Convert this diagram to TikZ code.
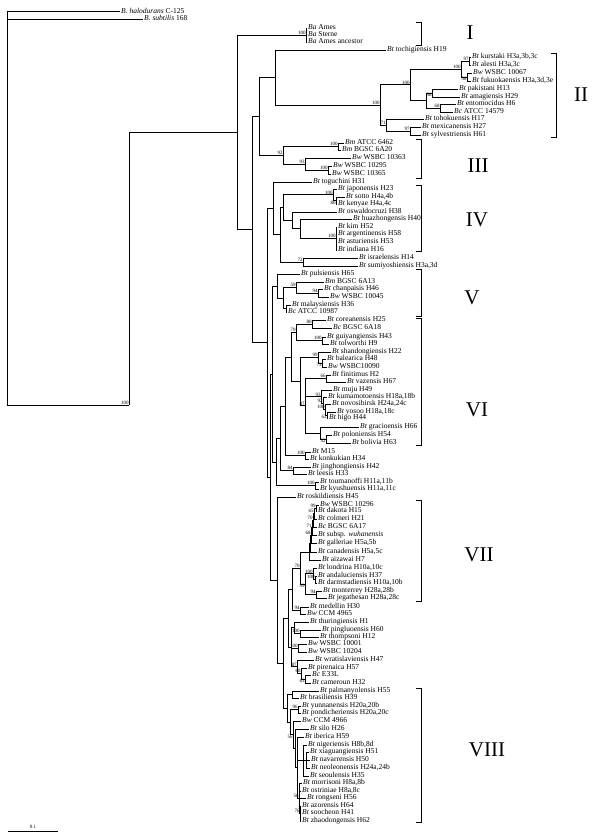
\documentclass[tikz,border=0pt]{standalone}
\usepackage{fontspec}
\setmainfont{Liberation Serif}
\newcommand\lfont{\fontsize{7.5}{8}\selectfont}
\newcommand\sfont{\fontsize{5}{5}\selectfont}
\newcommand\rfont{\fontsize{21}{21}\selectfont}
\begin{document}
\begin{tikzpicture}[x=1pt,y=-1pt,
 br/.style={line width=0.6pt},
 lf/.style={anchor=west, inner xsep=1pt, inner ysep=0pt, font=\lfont, text height=5.2pt, text depth=1.6pt},
 sv/.style={anchor=south east, inner sep=0.3pt, font=\sfont},
 svb/.style={anchor=north east, inner sep=0.3pt, font=\sfont},
 brk/.style={line width=0.6pt},
 rn/.style={font=\rfont, inner sep=0pt}]
\useasboundingbox (0,0) rectangle (592,837);
% internal nodes
\coordinate (root) at (7,11.5);
\coordinate (ing) at (129,405);
\coordinate (N1) at (237,132.26);
\coordinate (BA) at (306,35);
\coordinate (N2) at (252,229.5);
\coordinate (D) at (259,116.34);
\coordinate (C) at (275,77.44);
\coordinate (IIr) at (380,104.88);
\coordinate (X) at (410,84.75);
\coordinate (K) at (461,69);
\coordinate (KA) at (469,61);
\coordinate (KB) at (467,77);
\coordinate (P) at (426,100.5);
\coordinate (PA) at (432,93);
\coordinate (PB) at (440,108);
\coordinate (TB) at (386,125);
\coordinate (MS) at (410,131);
\coordinate (E) at (283,155.25);
\coordinate (BM) at (338,146.5);
\coordinate (F) at (305,164);
\coordinate (BWP) at (328,170);
\coordinate (N3) at (267,342.7);
\coordinate (G) at (273,208.39);
\coordinate (H) at (280,234.78);
\coordinate (IV) at (283,207.56);
\coordinate (J) at (333,194.75);
\coordinate (SK) at (336,200.5);
\coordinate (R) at (292,220.38);
\coordinate (R2) at (300,228.75);
\coordinate (KIM) at (336,238.5);
\coordinate (ISR) at (303,262);
\coordinate (N4) at (270,477);
\coordinate (Q) at (272,373.96);
\coordinate (V) at (277,286);
\coordinate (V2) at (283,298);
\coordinate (V1) at (296,287.5);
\coordinate (CW) at (318,293);
\coordinate (MA) at (286,308.5);
\coordinate (Z) at (276,461.9);
\coordinate (W) at (280,438.35);
\coordinate (VI) at (285,406.2);
\coordinate (VIa) at (291,356.9);
\coordinate (VI1) at (296,332.25);
\coordinate (CB) at (312,324);
\coordinate (GT) at (322,340.5);
\coordinate (VI2) at (300,381.6);
\coordinate (SB) at (318,357.5);
\coordinate (BW) at (322,363);
\coordinate (VI3) at (305,405.75);
\coordinate (FV) at (326,378.5);
\coordinate (MK) at (321,396.6);
\coordinate (KNY) at (323,403.25);
\coordinate (NY) at (325,409.5);
\coordinate (YH) at (327,415);
\coordinate (GPB) at (320,433);
\coordinate (PB2) at (326,439);
\coordinate (MK15) at (305,455.5);
\coordinate (JL) at (293,470.5);
\coordinate (TK) at (315,485.5);
\coordinate (N5) at (277,580.1);
\coordinate (N6) at (283,663.25);
\coordinate (T) at (288,618.2);
\coordinate (VIIb) at (292,589.2);
\coordinate (VIIa) at (300,567.95);
\coordinate (A6) at (309,551.8);
\coordinate (A5) at (310,543.65);
\coordinate (A4) at (311,535.3);
\coordinate (A3) at (312,527.6);
\coordinate (A2) at (313,520.25);
\coordinate (A1) at (314,513.5);
\coordinate (WD) at (316,508);
\coordinate (LM) at (305,584.1);
\coordinate (LA) at (313,573.75);
\coordinate (AD) at (315,579.5);
\coordinate (MJ) at (316,594.5);
\coordinate (MC) at (300,610.5);
\coordinate (Tb) at (291,647.25);
\coordinate (Tb1) at (294,627.75);
\coordinate (PT) at (300,633.5);
\coordinate (WW) at (298,648);
\coordinate (WR) at (297,666.75);
\coordinate (PE) at (301,673.5);
\coordinate (EC) at (305,679);
\coordinate (VIIIg) at (287,708.3);
\coordinate (PBr) at (292,694.5);
\coordinate (V8) at (290,722.1);
\coordinate (YP) at (298,709.5);
\coordinate (big8) at (293,734.65);
\coordinate (S8top) at (295,748.3);
\coordinate (S8) at (297,767.6);
\coordinate (N8a) at (303,760.5);
\coordinate (XN) at (306,760);
\coordinate (N8b) at (299,798.25);
\coordinate (AZ) at (300,813.5);
% leaves
\node[lf] (lhal) at (120,11.5) {\textit{B. halodurans} C-125};
\node[lf] (lsub) at (143,19) {\textit{B. subtilis} 168};
\node[lf] (lba1) at (307,28) {\textit{Ba} Ames};
\node[lf] (lba2) at (307,35) {\textit{Ba} Sterne};
\node[lf] (lba3) at (307,42) {\textit{Ba} Ames ancestor};
\node[lf] (ltoc) at (386,50) {\textit{Bt} tochigiensis H19};
\node[lf] (lkur) at (471,57) {\textit{Bt} kurstaki H3a,3b,3c};
\node[lf] (lale) at (471,65) {\textit{Bt} alesti H3a,3c};
\node[lf] (lw67) at (472,73) {\textit{Bw} WSBC 10067};
\node[lf] (lfuk) at (471,81) {\textit{Bt} fukuokaensis H3a,3d,3e};
\node[lf] (lpak) at (458,89) {\textit{Bt} pakistani H13};
\node[lf] (lama) at (460,97) {\textit{Bt} amagiensis H29};
\node[lf] (lent) at (456,104) {\textit{Bt} entomocidus H6};
\node[lf] (la145) at (453,112) {\textit{Bc} ATCC 14579};
\node[lf] (ltoh) at (424,119) {\textit{Bt} tohokuensis H17};
\node[lf] (lmex) at (421,127) {\textit{Bt} mexicanensis H27};
\node[lf] (lsyl) at (421,135) {\textit{Bt} sylvestriensis H61};
\node[lf] (lbm1) at (344,143) {\textit{Bm} ATCC 6462};
\node[lf] (lbm2) at (341,150) {\textit{Bm} BGSC 6A20};
\node[lf] (lw363) at (351,158) {\textit{Bw} WSBC 10363};
\node[lf] (lw295) at (332,166) {\textit{Bw} WSBC 10295};
\node[lf] (lw365) at (331,174) {\textit{Bw} WSBC 10365};
\node[lf] (ltog) at (312,182) {\textit{Bt} toguchini H31};
\node[lf] (ljap) at (337,189) {\textit{Bt} japonensis H23};
\node[lf] (lsot) at (345,197) {\textit{Bt} sotto H4a,4b};
\node[lf] (lken) at (337,204) {\textit{Bt} kenyae H4a,4c};
\node[lf] (losw) at (337,212) {\textit{Bt} oswaldocruzi H38};
\node[lf] (lhua) at (352,219) {\textit{Bt} huazhongensis H40};
\node[lf] (lkim) at (337,227) {\textit{Bt} kim H52};
\node[lf] (larg) at (337,234) {\textit{Bt} argentinensis H58};
\node[lf] (last) at (337,242) {\textit{Bt} asturiensis H53};
\node[lf] (lind) at (337,250) {\textit{Bt} indiana H16};
\node[lf] (lisr) at (358,258) {\textit{Bt} israelensis H14};
\node[lf] (lsum) at (358,266) {\textit{Bt} sumiyoshiensis H3a,3d};
\node[lf] (lpul) at (300,274) {\textit{Bt} pulsiensis H65};
\node[lf] (lb6a13) at (324,282) {\textit{Bm} BGSC 6A13};
\node[lf] (lcha) at (323,289) {\textit{Bt} chanpaisis H46};
\node[lf] (lw045) at (329,297) {\textit{Bw} WSBC 10045};
\node[lf] (lmal) at (291,305) {\textit{Bt} malaysiensis H36};
\node[lf] (la109) at (287,312) {\textit{Bc} ATCC 10987};
\node[lf] (lcor) at (326,320) {\textit{Bt} coreanensis H25};
\node[lf] (lb6a18) at (332,328) {\textit{Bc} BGSC 6A18};
\node[lf] (lgui) at (326,337) {\textit{Bt} guiyangiensis H43};
\node[lf] (ltol) at (329,344) {\textit{Bt} tolworthi H9};
\node[lf] (lsha) at (331,352) {\textit{Bt} shandongiensis H22};
\node[lf] (lbal) at (326,359) {\textit{Bt} balearica H48};
\node[lf] (lw090) at (327,367) {\textit{Bw} WSBC10090};
\node[lf] (lfin) at (331,375) {\textit{Bt} finitimus H2};
\node[lf] (lvaz) at (346,382) {\textit{Bt} vazensis H67};
\node[lf] (lmuj) at (332,390) {\textit{Bt} muju H49};
\node[lf] (lkum) at (327,397) {\textit{Bt} kumamotoensis H18a,18b};
\node[lf] (lnov) at (331,404) {\textit{Bt} novosibirsk H24a,24c};
\node[lf] (lyos) at (336,412) {\textit{Bt} yosoo H18a,18c};
\node[lf] (lhig) at (328,418) {\textit{Bt} higo H44};
\node[lf] (lgra) at (359,427) {\textit{Bt} gracioensis H66};
\node[lf] (lpol) at (332,435) {\textit{Bt} poloniensis H54};
\node[lf] (lbol) at (351,443) {\textit{Bt} bolivia H63};
\node[lf] (lm15) at (311,452) {\textit{Bt} M15};
\node[lf] (lkon) at (309,459) {\textit{Bt} konkukian H34};
\node[lf] (ljin) at (311,467) {\textit{Bt} jinghongiensis H42};
\node[lf] (llee) at (307,474) {\textit{Bt} leesis H33};
\node[lf] (ltou) at (319,482) {\textit{Bt} toumanoffi H11a,11b};
\node[lf] (lkyu) at (319,489) {\textit{Bt} kyushuensis H11a,11c};
\node[lf] (lros) at (296,497) {\textit{Bt} roskildiensis H45};
\node[lf] (lw296) at (319,505) {\textit{Bw} WSBC 10296};
\node[lf] (ldak) at (317,511) {\textit{Bt} dakota H15};
\node[lf] (lcol) at (317,519) {\textit{Bt} colmeri H21};
\node[lf] (lb6a17) at (317,527) {\textit{Bc} BGSC 6A17};
\node[lf] (lwuh) at (317,535) {\textit{Bt} subsp. \textit{wuhanensis}};
\node[lf] (lgal) at (317,543) {\textit{Bt} galleriae H5a,5b};
\node[lf] (lcan) at (317,552) {\textit{Bt} canadensis H5a,5c};
\node[lf] (laiz) at (321,560) {\textit{Bt} aizawai H7};
\node[lf] (llon) at (317,568) {\textit{Bt} londrina H10a,10c};
\node[lf] (landa) at (317,576) {\textit{Bt} andaluciensis H37};
\node[lf] (ldar) at (317,583) {\textit{Bt} darmstadiensis H10a,10b};
\node[lf] (lmon) at (322,591) {\textit{Bt} monterrey H28a,28b};
\node[lf] (ljeg) at (327,598) {\textit{Bt} jegathesan H28a,28c};
\node[lf] (lmed) at (309,607) {\textit{Bt} medellin H30};
\node[lf] (lc965) at (306,614) {\textit{Bw} CCM 4965};
\node[lf] (lthu) at (309,622) {\textit{Bt} thuringiensis H1};
\node[lf] (lpin) at (321,630) {\textit{Bt} pingluoensis H60};
\node[lf] (ltho) at (319,637) {\textit{Bt} thompsoni H12};
\node[lf] (lw001) at (307,644) {\textit{Bw} WSBC 10001};
\node[lf] (lw204) at (307,652) {\textit{Bw} WSBC 10204};
\node[lf] (lwra) at (314,660) {\textit{Bt} wratislaviensis H47};
\node[lf] (lpir) at (307,668) {\textit{Bt} pirenaica H57};
\node[lf] (le33) at (311,675) {\textit{Bc} E33L};
\node[lf] (lcam) at (311,683) {\textit{Bt} cameroun H32};
\node[lf] (lpal) at (319,691) {\textit{Bt} palmanyolensis H55};
\node[lf] (lbra) at (299,698) {\textit{Bt} brasiliensis H39};
\node[lf] (lyun) at (301,706) {\textit{Bt} yunnanensis H20a,20b};
\node[lf] (lpon) at (301,713) {\textit{Bt} pondicheriensis H20a,20c};
\node[lf] (lc966) at (301,721) {\textit{Bw} CCM 4966};
\node[lf] (lsil) at (309,729) {\textit{Bt} silo H26};
\node[lf] (libe) at (304,737) {\textit{Bt} iberica H59};
\node[lf] (lnig) at (307,745) {\textit{Bt} nigeriensis H8b,8d};
\node[lf] (lxia) at (309,752) {\textit{Bt} xiaguangiensis H51};
\node[lf] (lnav) at (310,760) {\textit{Bt} navarrensis H50};
\node[lf] (lneo) at (310,768) {\textit{Bt} neoleonensis H24a,24b};
\node[lf] (lseo) at (309,776) {\textit{Bt} seoulensis H35};
\node[lf] (lmor) at (302,783) {\textit{Bt} morrisoni H8a,8b};
\node[lf] (lost) at (301,791) {\textit{Bt} ostriniae H8a,8c};
\node[lf] (lron) at (306,798) {\textit{Bt} rongseni H56};
\node[lf] (lazo) at (301,806) {\textit{Bt} azorensis H64};
\node[lf] (lsoo) at (301,813) {\textit{Bt} soocheon H41};
\node[lf] (lzha) at (301,821) {\textit{Bt} zhaodongensis H62};
% branches
\foreach \p/\c in {root/lhal, root/lsub, root/ing, ing/N1, N1/BA, N1/N2,
 BA/lba1, BA/lba2, BA/lba3, N2/D, N2/N3, D/C, D/E, C/ltoc, C/IIr,
 IIr/X, IIr/TB, X/K, X/P, K/KA, K/KB, KA/lkur, KA/lale, KB/lw67, KB/lfuk,
 P/PA, P/PB, PA/lpak, PA/lama, PB/lent, PB/la145, TB/ltoh, TB/MS, MS/lmex, MS/lsyl,
 E/BM, E/F, BM/lbm1, BM/lbm2, F/lw363, F/BWP, BWP/lw295, BWP/lw365,
 N3/G, N3/N4, G/ltog, G/H, H/IV, H/ISR, IV/J, IV/R, J/ljap, J/SK, SK/lsot, SK/lken,
 R/losw, R/R2, R2/lhua, R2/KIM, KIM/lkim, KIM/larg, KIM/last, KIM/lind, ISR/lisr, ISR/lsum,
 N4/Q, N4/N5, Q/V, Q/Z, V/lpul, V/V2, V2/V1, V2/MA, V1/lb6a13, V1/CW, CW/lcha, CW/lw045,
 MA/lmal, MA/la109, Z/W, Z/TK, W/VI, W/JL, VI/VIa, VI/MK15, VIa/VI1, VIa/VI2,
 VI1/CB, VI1/GT, CB/lcor, CB/lb6a18, GT/lgui, GT/ltol, VI2/SB, VI2/VI3, SB/lsha, SB/BW,
 BW/lbal, BW/lw090, VI3/FV, VI3/MK, VI3/GPB, FV/lfin, FV/lvaz, MK/lmuj, MK/KNY,
 KNY/lkum, KNY/NY, NY/lnov, NY/YH, YH/lyos, YH/lhig, GPB/lgra, GPB/PB2, PB2/lpol, PB2/lbol,
 MK15/lm15, MK15/lkon, JL/ljin, JL/llee, TK/ltou, TK/lkyu,
 N5/lros, N5/N6, N6/T, N6/VIIIg, T/VIIb, T/Tb, VIIb/VIIa, VIIb/MC, VIIa/A6, VIIa/LM,
 A6/A5, A6/laiz, A5/A4, A5/lcan, A4/A3, A4/lgal, A3/A2, A3/lwuh, A2/A1, A2/lb6a17,
 A1/WD, A1/lcol, WD/lw296, WD/ldak, LM/LA, LM/MJ, LA/llon, LA/AD, AD/landa, AD/ldar,
 MJ/lmon, MJ/ljeg, MC/lmed, MC/lc965, Tb/Tb1, Tb/WW, Tb/WR, Tb1/lthu, Tb1/PT,
 PT/lpin, PT/ltho, WW/lw001, WW/lw204, WR/lwra, WR/PE, PE/lpir, PE/EC, EC/le33, EC/lcam,
 VIIIg/PBr, VIIIg/V8, PBr/lpal, PBr/lbra, V8/YP, V8/big8, YP/lyun, YP/lpon,
 big8/lc966, big8/S8top, S8top/lsil, S8top/S8, S8/libe, S8/N8a, S8/N8b,
 N8a/lnig, N8a/XN, N8a/lseo, XN/lxia, XN/lnav, XN/lneo,
 N8b/lmor, N8b/lost, N8b/lron, N8b/AZ, AZ/lazo, AZ/lsoo, AZ/lzha}
 {\draw[br] (\p) |- (\c);}
% support values
\foreach \n/\v in {ing/100, BA/100, IIr/100, X/100, K/100, KA/97, PB/68, TB/71, MS/97,
 BM/100, F/93, E/92, BWP/100, J/100, KIM/100, ISR/72, V1/59, CW/94, CB/80, VI1/79,
 GT/100, SB/99, FV/66, MK/93, KNY/92, NY/100, VI3/87, MK15/100, JL/84, TK/100,
 WD/99, A1/65, A2/70, A3/71, A4/68, VIIa/70, LA/100, AD/100, MJ/94, MC/94,
 PT/100, WW/100, WR/87, PE/68, YP/96, N8b/56, AZ/76}
 {\node[sv] (s\n) at (\n) {\v};}
\foreach \n/\v in {KB/58, PA/58, SK/80, BW/73, YH/62, PB2/52, LM/59, EC/63, big8/56}
 {\node[svb] (s\n) at (\n) {\v};}
% brackets
\draw[brk] (416,22) -- (421,22) -- (421,45) -- (416,45);
\draw[brk] (551,53) -- (556,53) -- (556,137) -- (551,137);
\draw[brk] (416,139) -- (421,139) -- (421,178) -- (416,178);
\draw[brk] (416,185) -- (421,185) -- (421,251) -- (416,251);
\draw[brk] (416,269) -- (421,269) -- (421,316) -- (416,316);
\draw[brk] (416,318) -- (421,318) -- (421,445) -- (416,445);
\draw[brk] (416,500) -- (421,500) -- (421,601) -- (416,601);
\draw[brk] (416,688) -- (421,688) -- (421,822) -- (416,822);
\node[rn] (r1) at (470,33) {I};
\node[rn] (r2) at (581,95) {II};
\node[rn] (r3) at (478,166) {III};
\node[rn] (r4) at (477,220) {IV};
\node[rn] (r5) at (472,298) {V};
\node[rn] (r6) at (477,410) {VI};
\node[rn] (r7) at (479,555) {VII};
\node[rn] (r8) at (487,750) {VIII};
% scale bar
\coordinate (sbl) at (8,831);
\coordinate (sbr) at (58,831);
\draw[br] (sbl) -- (sbr);
\node[font=\sfont, anchor=south, inner sep=1pt] (sbt) at (33,830) {0.1};
\end{tikzpicture}
\end{document}
